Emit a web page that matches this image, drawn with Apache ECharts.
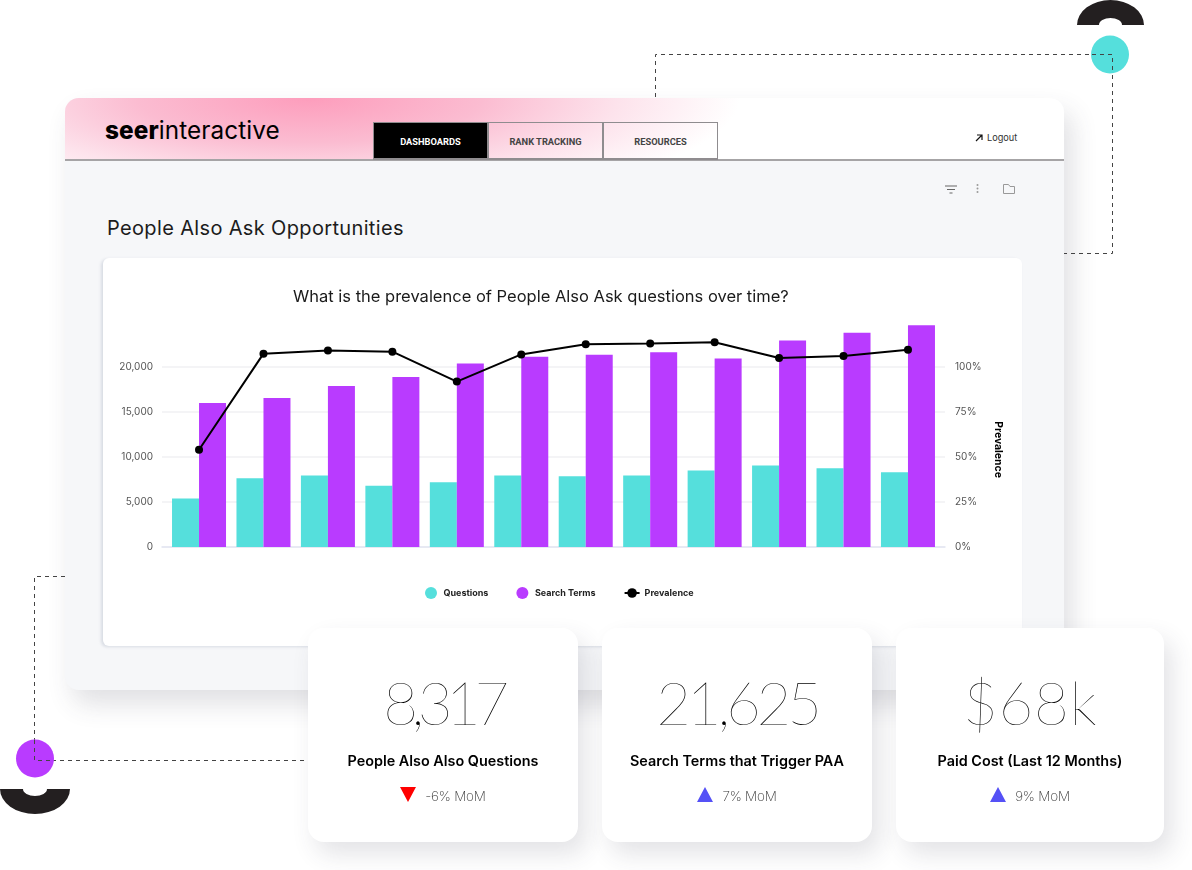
<!DOCTYPE html>
<html>
<head>
<meta charset="utf-8">
<title>People Also Ask Opportunities</title>
<script src="https://cdn.jsdelivr.net/npm/echarts@6/dist/echarts.min.js"></script>
<style>
html, body { margin: 0; padding: 0; background: #fff; font-family: Inter, sans-serif; color: #000; }
#page { position: relative; width: 1192px; height: 870px; overflow: hidden; }
#page > * { position: absolute; }
#decor { left: 0; top: 0; }
#panel { left: 65px; top: 98px; width: 999px; height: 592px; background: #f6f7f9; border-radius: 14px; box-shadow: 8px 14px 26px rgba(60, 60, 80, .16); }
#header { left: 65px; top: 98px; width: 999px; height: 61px; border-bottom: 2px solid #a6a4a6; border-radius: 14px 14px 0 0;
    background: radial-gradient(ellipse 430px 112px at 245px 0, #fd9dbc 0, #fbbcd1 40%, #fde3ec 72%, #fff 100%); }
#logo { left: 105px; top: 115px; font-size: 24.3px; line-height: 30px; letter-spacing: .1px; }
#logo b { font-weight: 800; }
.tab { top: 122px; width: 113px; height: 35px; border: 1px solid #8f8c8f; border-bottom: 2px solid #8f8c8f; text-align: center; line-height: 37px;
    font: 700 9.3px/37px Roboto, sans-serif; color: #444; }
#tab1 { left: 373px; background: #000; color: #fff; }
#tab2 { left: 488px; }
#tab3 { left: 603px; }
#logout { left: 987px; top: 131px; font-size: 9.2px; line-height: 13px; color: #333; }
#heading { left: 107px; top: 214px; font-size: 20px; line-height: 28px; color: #1c1c1c; letter-spacing: .35px; }
#chart { left: 103px; top: 258px; width: 919px; height: 388px; background: #fff; border-radius: 6px; box-shadow: -2px 1px 3px rgba(150, 160, 180, .3); }
.kpi { top: 628px; height: 214px; background: #fff; border-radius: 16px; box-shadow: 8px 12px 24px rgba(60, 60, 80, .14); text-align: center; }
.kpi .num { position: absolute; left: 0; right: 0; top: 37px; font-family: Lato, sans-serif; font-weight: 100; font-size: 60px; line-height: 74px; color: #000; }
.kpi .name { position: absolute; left: 0; right: 0; top: 123px; font-weight: 600; font-size: 14.4px; line-height: 20px; }
.kpi .mom { position: absolute; left: 0; right: 0; top: 158px; font-weight: 200; font-size: 13.5px; line-height: 20px; letter-spacing: -.2px; color: #333; }
.kpi .mom i { display: inline-block; width: 0; height: 0; margin-right: 9px; vertical-align: -1px; border-left: 8px solid transparent; border-right: 8px solid transparent; }
.kpi .down { border-top: 15px solid #ff0000; }
.kpi .up { border-bottom: 15px solid #5551f6; }
</style>
</head>
<body>
<div id="page">
    <svg id="decor" width="1192" height="870">
        <g fill="none" stroke="#444" stroke-width="1" stroke-dasharray="4 4">
            <path d="M655.5 97V54.5H1112.5V253.5H1064"></path>
            <path d="M65 576.5H34.5V760.5H308"></path>
        </g>
    </svg>
    <div id="panel"></div>
    <div id="header"></div>
    <div id="logo"><b>seer</b>interactive</div>
    <div class="tab" id="tab1">DASHBOARDS</div>
    <div class="tab" id="tab2">RANK TRACKING</div>
    <div class="tab" id="tab3">RESOURCES</div>
    <div id="logout">Logout</div>
    <div id="heading">People Also Ask Opportunities</div>
    <div id="chart"></div>
    <svg id="over" width="1192" height="870" style="left:0;top:0;pointer-events:none">
        <path d="M1077 25A33.5 25 0 0 1 1144 25H1122A11.5 7 0 0 0 1099 25Z" fill="#231f20"></path>
        <circle cx="1110" cy="54.5" r="19" fill="#55dfdc"></circle>
        <path d="M0 789A35 25 0 0 0 70 789H47A12 7 0 0 1 23 789Z" fill="#231f20"></path>
        <circle cx="35" cy="758.5" r="19" fill="#b93bff"></circle>
        <g fill="none" stroke="#444" stroke-width="1" stroke-dasharray="4 4">
            <path d="M1092 54.5H1112.5V72"></path>
            <path d="M34.5 740V760.5H54"></path>
        </g>
        <!-- logout arrow -->
        <path d="M976 141L981.5 135.5M977 135H982V140" fill="none" stroke="#111" stroke-width="1.2"></path>
        <!-- filter, dots, folder -->
        <path d="M945 186H957M947 189.5H955M949.5 193H952.5" fill="none" stroke="#666" stroke-width="1.2"></path>
        <g fill="#9a9a9a"><circle cx="977.5" cy="185" r="1"></circle><circle cx="977.5" cy="188.5" r="1"></circle><circle cx="977.5" cy="192" r="1"></circle></g>
        <path d="M1003.5 184.5H1008.5L1010 186.5H1014.5V193.5H1003.5Z" fill="none" stroke="#999" stroke-width="1"></path>
    </svg>
    <div class="kpi" style="left:308px;width:270px">
        <div class="num" style="letter-spacing:-6.5px">8,317</div>
        <div class="name">People Also Also Questions</div>
        <div class="mom"><i class="down"></i>-6% MoM</div>
    </div>
    <div class="kpi" style="left:602px;width:270px">
        <div class="num" style="letter-spacing:-4.2px">21,625</div>
        <div class="name">Search Terms that Trigger PAA</div>
        <div class="mom"><i class="up"></i>7% MoM</div>
    </div>
    <div class="kpi" style="left:896px;width:268px">
        <div class="num" style="letter-spacing:.7px">$68k</div>
        <div class="name">Paid Cost (Last 12 Months)</div>
        <div class="mom"><i class="up"></i>9% MoM</div>
    </div>
</div>
<script>
// the picture has no x labels, the twelve bars are months
var categories = ['M1', 'M2', 'M3', 'M4', 'M5', 'M6', 'M7', 'M8', 'M9', 'M10', 'M11', 'M12'];
var questions = [5400, 7650, 7950, 6800, 7200, 7950, 7850, 7950, 8500, 9050, 8750, 8300];
var searchTerms = [16000, 16550, 17900, 18900, 20400, 21150, 21350, 21650, 20950, 22950, 23800, 24650];
var prevalence = [54, 107.4, 109.1, 108.5, 91.9, 107, 112.6, 113.1, 113.7, 105, 106.1, 109.6];

var chartTitle = 'What is the prevalence of People Also Ask questions over time?';
var labelFont = 'Inter';

/**
 * y axis of one grid, the frame grid shows it and the marks grid hides it
 */
function valueAxis(gridIndex, position, max, interval, visible, formatter) {
    return {
        type: 'value',
        gridIndex: gridIndex,
        position: position,
        min: 0,
        max: max,
        interval: interval,
        axisLine: { show: false },
        axisTick: { show: false },
        splitLine: { show: visible && position === 'left', showMaxLine: false, lineStyle: { color: '#f1f1f3', width: 1.5 } },
        axisLabel: {
            show: visible,
            showMaxLabel: false,
            formatter: formatter,
            margin: position === 'left' ? 9 : 10,
            padding: [3, 0, 0, 0],
            color: '#555',
            fontFamily: labelFont,
            fontSize: 10
        }
    };
}

function initChart() {
    var myChart = echarts.init(document.getElementById('chart'));
    var countLabel = function (v) { return echarts.format.addCommas(v); };
    var percentLabel = function (v) { return v + '%'; };
    var rightAxis = valueAxis(0, 'right', 125, 25, true, percentLabel);
    rightAxis.name = 'Prevalence';
    rightAxis.nameLocation = 'middle';
    rightAxis.nameRotate = -90;
    rightAxis.nameGap = 48;
    rightAxis.nameTextStyle = { color: '#000', fontFamily: labelFont, fontWeight: 700, fontSize: 10.4, padding: [0, 0, 0, 30] };

    var option = {
        animation: false,
        title: {
            text: chartTitle,
            left: 185,
            top: 26,
            textStyle: { color: '#1a1a1a', fontFamily: labelFont, fontWeight: 400, fontSize: 16.5 }
        },
        legend: {
            left: 317,
            top: 324,
            itemWidth: 15,
            itemHeight: 12,
            itemGap: 28,
            textStyle: { color: '#222', fontFamily: labelFont, fontWeight: 700, fontSize: 9 },
            data: [
                { name: 'Questions', icon: 'circle' },
                { name: 'Search Terms', icon: 'circle' },
                { name: 'Prevalence' }
            ]
        },
        // grid 0 carries the long axis line and the labels, grid 1 the marks
        grid: [
            { left: 59, right: 77, top: 64, bottom: 99 },
            { left: 63.8, width: 773.4, top: 64, bottom: 99 }
        ],
        xAxis: [
            { type: 'category', gridIndex: 0, data: [''], axisTick: { show: false }, axisLabel: { show: false }, axisLine: { lineStyle: { color: '#e2e5f2', width: 1.5 } } },
            { type: 'category', gridIndex: 1, data: categories, axisTick: { show: false }, axisLabel: { show: false }, axisLine: { show: false } }
        ],
        yAxis: [
            valueAxis(0, 'left', 25000, 5000, true, countLabel),
            rightAxis,
            valueAxis(1, 'left', 25000, 5000, false),
            valueAxis(1, 'right', 125, 25, false)
        ],
        series: [
            { name: 'Questions', type: 'bar', xAxisIndex: 1, yAxisIndex: 2, data: questions, barWidth: 27, barGap: 0, itemStyle: { color: '#55dfdc' } },
            { name: 'Search Terms', type: 'bar', xAxisIndex: 1, yAxisIndex: 2, data: searchTerms, barWidth: 27, barGap: 0, itemStyle: { color: '#b93bff' } },
            {
                name: 'Prevalence',
                type: 'line',
                xAxisIndex: 1,
                yAxisIndex: 3,
                data: prevalence,
                symbol: 'circle',
                symbolSize: 8,
                lineStyle: { color: '#000', width: 2 },
                itemStyle: { color: '#000' }
            }
        ]
    };
    myChart.setOption(option);
}

initChart();
</script>
</body>
</html>
